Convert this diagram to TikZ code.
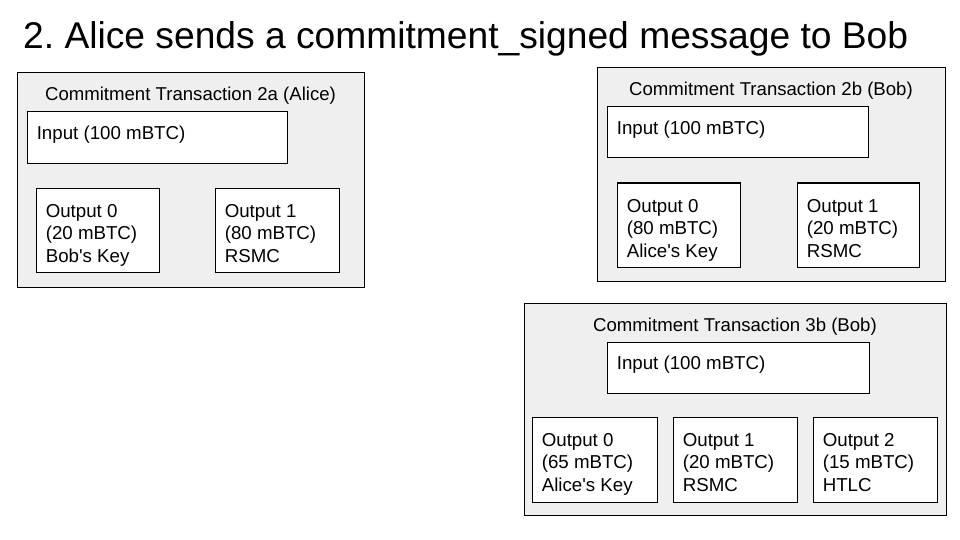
\documentclass[tikz,border=0pt]{standalone}
\usepackage{fontspec}
\setmainfont{Liberation Sans}[Ligatures=TeXOff]
\frenchspacing
\definecolor{panelgray}{HTML}{EFEFEF}
\begin{document}
\begin{tikzpicture}[x=1pt,y=-1pt,
  panel/.style={draw=black, fill=panelgray, line width=1pt, rectangle, inner sep=0pt, outer sep=0pt, anchor=north west},
  card/.style={draw=black, fill=white, line width=1pt, rectangle, inner sep=0pt, outer sep=0pt, anchor=north west},
  lbl/.style={inner sep=0pt, outer sep=0pt, anchor=base west, font=\fontsize{18.7}{22.5}\selectfont, align=left},
  ttl/.style={inner sep=0pt, outer sep=0pt, anchor=base, font=\fontsize{18.6}{22.5}\selectfont}]
\useasboundingbox (0,0) rectangle (960,540);
\node[inner sep=0pt, anchor=base west, font=\fontsize{37.2}{44}\selectfont] (head) at (23,49) {2. Alice sends a commitment\_signed message to Bob};

% Panel A
\node[panel, minimum width=347pt, minimum height=214pt] (A) at (17,73) {};
\node[ttl] (Atitle) at (190.5,101) {Commitment Transaction 2a (Alice)};
\node[card, minimum width=260pt, minimum height=52pt] (Ain) at (27,112) {};
\node[lbl] (Aintext) at (36.8,139.5) {Input (100 mBTC)};
\node[card, minimum width=123pt, minimum height=84pt] (Ao0) at (36,188) {};
\node[lbl] (Ao0text) at (45.8,262) {Output 0\\(20 mBTC)\\Bob's Key};
\node[card, minimum width=124pt, minimum height=84pt] (Ao1) at (215,188) {};
\node[lbl] (Ao1text) at (224.8,262) {Output 1\\(80 mBTC)\\RSMC};

% Panel B
\node[panel, minimum width=348pt, minimum height=213pt] (B) at (597,68) {};
\node[ttl] (Btitle) at (771,96) {Commitment Transaction 2b (Bob)};
\node[card, minimum width=261pt, minimum height=51pt] (Bin) at (607,107) {};
\node[lbl] (Bintext) at (616.8,134.5) {Input (100 mBTC)};
\node[card, minimum width=123pt, minimum height=84pt] (Bo0) at (617,183) {};
\node[lbl] (Bo0text) at (626.8,257) {Output 0\\(80 mBTC)\\Alice's Key};
\node[card, minimum width=122pt, minimum height=84pt] (Bo1) at (797,183) {};
\node[lbl] (Bo1text) at (806.8,257) {Output 1\\(20 mBTC)\\RSMC};

% Panel C
\node[panel, minimum width=422pt, minimum height=212pt] (C) at (524,303) {};
\node[ttl] (Ctitle) at (735,331) {Commitment Transaction 3b (Bob)};
\node[card, minimum width=262pt, minimum height=51pt] (Cin) at (607,342) {};
\node[lbl] (Cintext) at (616.8,369.5) {Input (100 mBTC)};
\node[card, minimum width=125pt, minimum height=85pt] (Co0) at (532,417) {};
\node[lbl] (Co0text) at (541.8,491) {Output 0\\(65 mBTC)\\Alice's Key};
\node[card, minimum width=124pt, minimum height=85pt] (Co1) at (673,417) {};
\node[lbl] (Co1text) at (682.8,491) {Output 1\\(20 mBTC)\\RSMC};
\node[card, minimum width=124pt, minimum height=85pt] (Co2) at (813,417) {};
\node[lbl] (Co2text) at (822.8,491) {Output 2\\(15 mBTC)\\HTLC};
\end{tikzpicture}
\end{document}
